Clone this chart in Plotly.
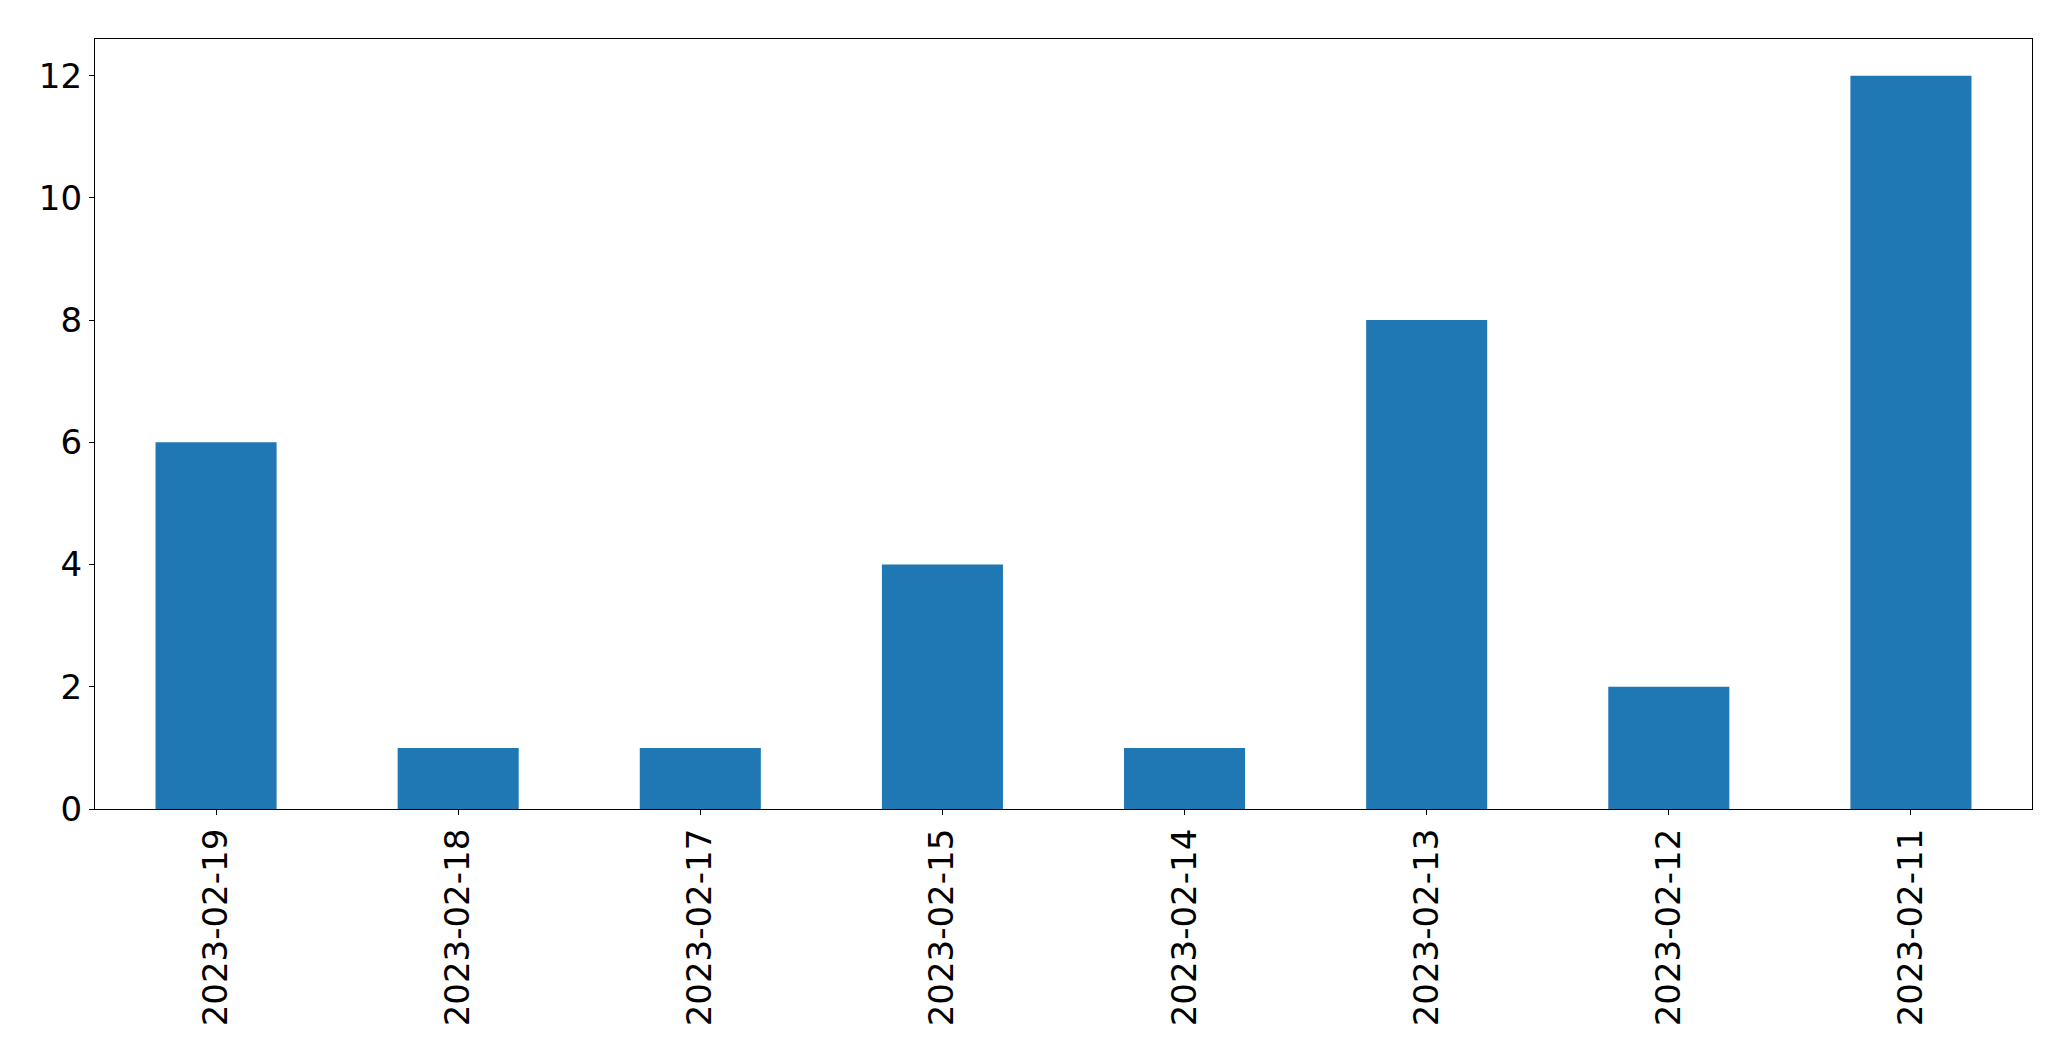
import plotly.graph_objects as go

dates = ["2023-02-19", "2023-02-18", "2023-02-17", "2023-02-15",
         "2023-02-14", "2023-02-13", "2023-02-12", "2023-02-11"]
counts = [6, 1, 1, 4, 1, 8, 2, 12]

fig = go.Figure(go.Bar(x=dates, y=counts, width=0.5, marker_color="#1f77b4",
                       marker_line_width=0))

axis_common = dict(showline=True, linecolor="black", linewidth=1.3, mirror=True,
                   showgrid=False, zeroline=False, ticks="outside", ticklen=5,
                   tickwidth=1.3, tickcolor="black",
                   tickfont=dict(family="DejaVu Sans", size=34, color="black"))

fig.update_layout(
    width=2055, height=1045,
    margin=dict(l=87, r=31, t=31, b=244, autoexpand=False),
    paper_bgcolor="white", plot_bgcolor="white",
    showlegend=False,
    xaxis=dict(type="category", range=[-0.5, 7.5], tickangle=-90, **axis_common),
    yaxis=dict(range=[0, 12.6], tickvals=[0, 2, 4, 6, 8, 10, 12], **axis_common),
    bargap=0.5,
)

fig.write_html("out.html")
